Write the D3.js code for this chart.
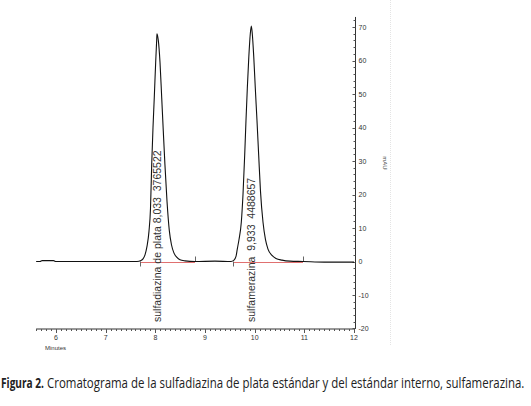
<!DOCTYPE html>
<html>
<head>
<meta charset="utf-8">
<script src="https://cdn.jsdelivr.net/npm/d3@7"></script>
<style>
  body { margin: 0; background: #fff; }
  svg { display: block; }
</style>
</head>
<body>
<div id="chart"></div>
<script>
// chromatogram trace (minutes, mAU)
const traceTime = [5.6, 5.68, 5.72, 5.95, 5.99, 7.0, 7.631,
  7.711, 7.752, 7.792, 7.832, 7.872, 7.903, 7.927, 7.953, 7.979, 8.007, 8.027, 8.033,
  8.06, 8.094, 8.128, 8.16, 8.193, 8.235, 8.281, 8.325, 8.376, 8.43, 8.496, 8.597, 8.798,
  9.2, 9.523, 9.584, 9.624, 9.65, 9.684, 9.731, 9.765, 9.799, 9.825, 9.852, 9.882, 9.912, 9.933,
  9.952, 9.982, 10.013, 10.047, 10.081, 10.117, 10.168, 10.218, 10.268, 10.349, 10.429, 10.55,
  10.711, 10.973, 11.4, 12.0];
const traceMAU = [0, 0, 0.25, 0.25, 0, 0, 0,
  0.3, 0.8, 2, 4.5, 9, 16, 29, 40, 49, 59.5, 66, 68,
  66, 59.5, 49, 39, 29, 18, 9.3, 5, 2.5, 1.3, 0.5, 0.2, 0,
  0.1, 0, 0.4, 1.5, 3.7, 6.5, 11.7, 20, 31.7, 42, 51.7, 61, 68, 70.3,
  68, 61, 51.7, 42, 31.7, 21, 11.7, 6.5, 3.7, 1.8, 0.9, 0.4,
  0.1, 0, -0.2, -0.2];

// integration events: start / end of each peak
const peakStart = [7.691, 9.563];
const peakEnd = [8.798, 10.973];
const peakTime = [8.033, 9.933];
const peakLabels = ["sulfadiazina de plata 8,033  3765522", "sulfamerazina  9,933  4488657"];

const xTicks = [6, 7, 8, 9, 10, 11, 12];
const yTicks = [-20, -10, 0, 10, 20, 30, 40, 50, 60, 70];

const width = 531, height = 406;

const svg = d3.select("#chart").append("svg")
  .attr("width", width)
  .attr("height", height);

svg.append("rect").attr("width", width).attr("height", height).attr("fill", "#fff");

const x = d3.scaleLinear().domain([6, 12]).range([56, 354]);
const y = d3.scaleLinear().domain([0, 70]).range([261.5, 27]);

const axisFont = "'Liberation Sans', Arial, sans-serif";

// faint frame edge of the original window
svg.append("line")
  .attr("x1", 390.5).attr("x2", 390.5).attr("y1", 0).attr("y2", 345)
  .attr("stroke", "#e4e4e4").attr("stroke-dasharray", "1,1");

/* bottom (time) axis */
const xAxisY = y(-20) + 0.5;
const xg = svg.append("g").attr("class", "x-axis");
xg.append("line")
  .attr("x1", x(5.6)).attr("x2", x(12)).attr("y1", xAxisY).attr("y2", xAxisY)
  .attr("stroke", "#333").attr("stroke-width", 1);

xg.selectAll("line.minor")
  .data(d3.range(56, 121).map(d => d / 10))
  .enter().append("line")
  .attr("class", "minor")
  .attr("x1", d => Math.round(x(d)) + 0.5).attr("x2", d => Math.round(x(d)) + 0.5)
  .attr("y1", xAxisY).attr("y2", d => xAxisY + (Math.abs(d - Math.round(d)) < 0.01 ? 4 : 2))
  .attr("stroke", "#555");

xg.selectAll("text")
  .data(xTicks)
  .enter().append("text")
  .attr("x", d => x(d))
  .attr("y", xAxisY + 11)
  .attr("text-anchor", "middle")
  .attr("font-family", axisFont)
  .attr("font-size", "7px")
  .attr("fill", "#333")
  .text(d => d);

xg.append("text")
  .attr("x", 45).attr("y", 350)
  .attr("font-family", axisFont)
  .attr("font-size", "6px")
  .attr("fill", "#333")
  .text("Minutes");

/* right (mAU) axis */
const yAxisX = 355.5;
const yg = svg.append("g").attr("class", "y-axis");
yg.append("line")
  .attr("x1", yAxisX).attr("x2", yAxisX).attr("y1", y(73)).attr("y2", xAxisY)
  .attr("stroke", "#333");

yg.selectAll("line.minor")
  .data(d3.range(-20, 73, 2))
  .enter().append("line")
  .attr("class", "minor")
  .attr("y1", d => Math.round(y(d)) + 0.5).attr("y2", d => Math.round(y(d)) + 0.5)
  .attr("x1", d => yAxisX - (d % 10 === 0 ? 3 : 2)).attr("x2", yAxisX)
  .attr("stroke", "#555");

yg.selectAll("text")
  .data(yTicks)
  .enter().append("text")
  .attr("x", yAxisX + 3)
  .attr("y", d => y(d) + 2.5)
  .attr("font-family", axisFont)
  .attr("font-size", "7px")
  .attr("fill", "#333")
  .text(d => d);

svg.append("text")
  .attr("transform", "translate(383,163) rotate(90)")
  .attr("text-anchor", "middle")
  .attr("font-family", axisFont)
  .attr("font-size", "6px")
  .attr("fill", "#444")
  .text("mAU");

/* integration baselines (red) and event marks */
const events = svg.append("g").attr("class", "events");
events.selectAll("line.base")
  .data(peakStart)
  .enter().append("line")
  .attr("class", "base")
  .attr("x1", d => x(d)).attr("x2", (d, i) => x(peakEnd[i]))
  .attr("y1", y(0) + 1).attr("y2", y(0) + 1)
  .attr("stroke", "#e07070").attr("stroke-width", 1.2);

events.selectAll("line.start")
  .data(peakStart)
  .enter().append("line")
  .attr("class", "start")
  .attr("x1", d => Math.round(x(d)) + 0.5).attr("x2", d => Math.round(x(d)) + 0.5)
  .attr("y1", y(0)).attr("y2", y(0) + 5)
  .attr("stroke", "#666");

events.selectAll("line.end")
  .data(peakEnd)
  .enter().append("line")
  .attr("class", "end")
  .attr("x1", d => Math.round(x(d)) + 0.5).attr("x2", d => Math.round(x(d)) + 0.5)
  .attr("y1", y(0) - 5).attr("y2", y(0))
  .attr("stroke", "#666");

/* the chromatogram trace */
const trace = traceTime.map((t, i) => ({ t: t, v: traceMAU[i] }));
const line = d3.line()
  .x(d => x(d.t))
  .y(d => y(d.v))
  .curve(d3.curveMonotoneX);

svg.append("path")
  .datum(trace)
  .attr("d", line)
  .attr("fill", "none")
  .attr("stroke", "#111")
  .attr("stroke-width", 1.1);

/* peak labels, rotated */
svg.selectAll("text.peak")
  .data(peakLabels)
  .enter().append("text")
  .attr("class", "peak")
  .attr("transform", (d, i) => "translate(" + (x(peakTime[i]) + 4) + ",322) rotate(-90)")
  .attr("font-family", axisFont)
  .attr("font-size", "10.5px")
  .attr("fill", "#333")
  .attr("xml:space", "preserve")
  .style("white-space", "pre")
  .text(d => d);

/* figure caption: squeezed horizontally to the condensed width of the original */
const captionFont = "'Open Sans', 'Liberation Sans', sans-serif";
function squeezed(txt, left, right, bold) {
  const t = svg.append("text")
    .attr("x", 0).attr("y", 0)
    .attr("font-family", captionFont)
    .attr("font-size", "14px")
    .attr("font-weight", bold ? "bold" : "normal")
    .attr("fill", "#222")
    .text(txt);
  const w = t.node().getComputedTextLength();
  t.attr("transform", "translate(" + left + ",388) scale(" + ((right - left) / w) + ",1)");
}
squeezed("Figura 2.", 1, 44, true);
squeezed("Cromatograma de la sulfadiazina de plata estándar y del estándar interno, sulfamerazina.", 47, 525, false);
</script>
</body>
</html>
